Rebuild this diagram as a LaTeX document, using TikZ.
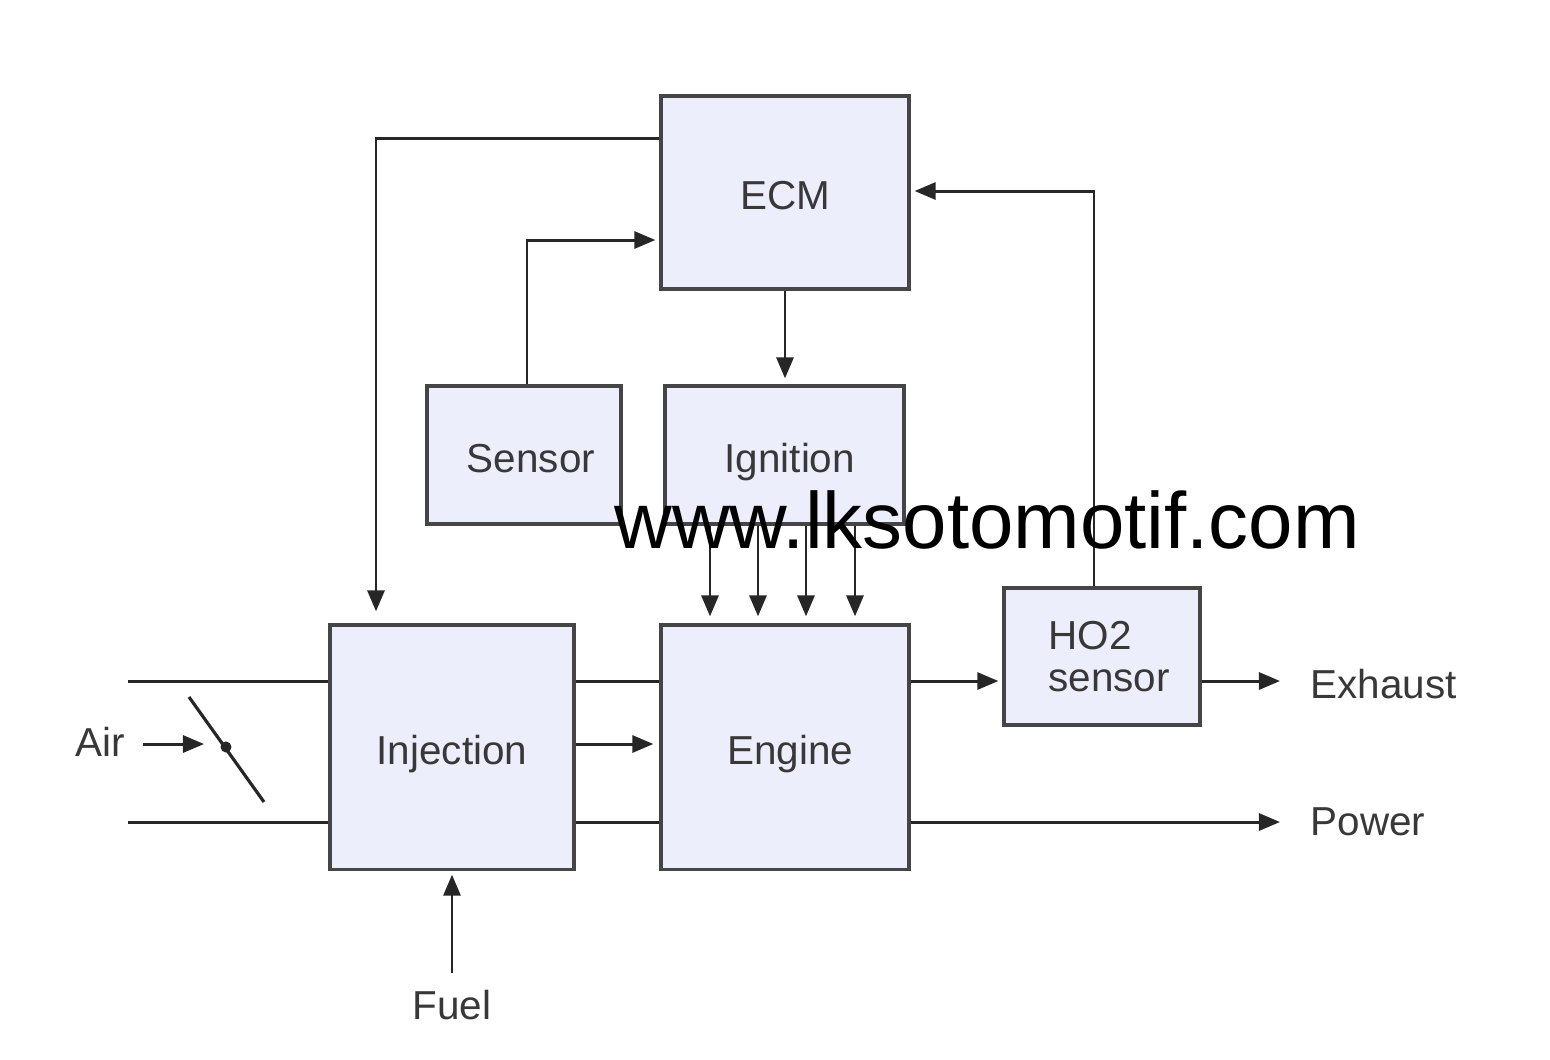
\documentclass[tikz,border=0pt]{standalone}
\usepackage{fontspec}
\setmainfont{Liberation Sans}
\usetikzlibrary{arrows.meta}
\definecolor{boxfill}{HTML}{EDEEFC}
\definecolor{boxdraw}{HTML}{454545}
\definecolor{txt}{HTML}{383838}
\tikzset{
  blk/.style={draw=boxdraw, fill=boxfill, line width=0.9pt, inner sep=0pt, font=\fontsize{11.5}{13}\selectfont, text=txt},
  onel/.style={text height=11pt, text depth=1.2pt},
  lbl/.style={inner sep=0pt, font=\fontsize{11.5}{13}\selectfont, text=txt},
  conn/.style={draw=black!85, line width=0.85pt},
  arr/.style={conn, -{Triangle[length=0.21cm,width=0.17cm]}, shorten >=0.04cm},
}
\begin{document}
\begin{tikzpicture}[x=0.01cm,y=-0.01cm]
\useasboundingbox[fill=white] (0,0) rectangle (1550,1059);

% blocks
\node[blk, onel, minimum width=2.48cm, minimum height=1.93cm] (ECM) at (785,192.5) {ECM};
\node[blk, onel, minimum width=1.94cm, minimum height=1.38cm] (Sensor) at (524,455) {\hspace*{4pt}Sensor};
\node[blk, onel, minimum width=2.39cm, minimum height=1.38cm] (Ignition) at (784.5,455) {\hspace*{3pt}Ignition};
\node[blk, onel, minimum width=2.44cm, minimum height=2.44cm] (Injection) at (452,747) {Injection};
\node[blk, onel, minimum width=2.48cm, minimum height=2.44cm] (Engine) at (785,747) {\hspace*{3pt}Engine};
\node[blk, align=left, minimum width=1.96cm, minimum height=1.37cm] (HO2) at (1102,656.5) {\hspace*{4pt}HO2\\[-1pt]\hspace*{4pt}sensor};

% labels
\node[lbl] (Air) at (100,742) {Air};
\node[lbl] (Fuel) at (452,1005) {Fuel};
\node[lbl, anchor=west] (Exhaust) at (1310,684) {Exhaust};
\node[lbl, anchor=west] (Power) at (1310,822) {Power};
\coordinate (thr) at (226,747);

% ECM -> Injection
\draw[arr, shorten >=0.12cm] (ECM.west |- 0,138) -| (Injection.north -| 376,0);
% Sensor -> ECM
\draw[arr] (Sensor.north -| 527,0) |- (ECM.west |- 0,240);
% ECM -> Ignition
\draw[arr, shorten >=0.06cm] (ECM.south) -- (ECM.south |- Ignition.north);
% Ignition -> Engine
\foreach \x in {710,758,806,855}
  \draw[arr, shorten >=0.07cm] (Ignition.south -| \x,0) -- (Engine.north -| \x,0);
% HO2 -> ECM
\draw[arr] (HO2.north -| 1094,0) |- (ECM.east |- 0,191);
% Engine -> HO2
\draw[arr] (Engine.east |- 0,681) -- (HO2.west |- 0,681);
% HO2 -> Exhaust
\draw[arr, shorten >=0.3cm] (HO2.east |- 0,681) -- (Exhaust.west |- 0,681);
% Engine -> Power
\draw[arr, shorten >=0.3cm] (Engine.east |- 0,822) -- (Power.west |- 0,822);
% intake duct
\draw[conn] (128,681) -- (Injection.west |- 0,681);
\draw[conn] (128,822) -- (Injection.west |- 0,822);
% Injection -> Engine
\draw[conn] (Injection.east |- 0,681) -- (Engine.west |- 0,681);
\draw[conn] (Injection.east |- 0,822) -- (Engine.west |- 0,822);
\draw[arr, shorten >=0.06cm] (Injection.east |- 0,744) -- (Engine.west |- 0,744);
% Air and throttle
\draw[arr, shorten <=0.18cm, shorten >=0.22cm] (Air.east |- 0,744) -- (thr |- 0,744);
\draw[conn, line width=0.9pt] (189,697) -- (264,802);
\fill[black!85] (thr) circle (5.5);
% Fuel
\draw[arr, shorten <=0.16cm] (Fuel.north) -- (Injection.south);

% watermark
\node[inner sep=0pt, anchor=base, font=\fontsize{22.7}{24}\selectfont, text=black] (wm) at (987,548) {www.lksotomotif.com};
\end{tikzpicture}
\end{document}
